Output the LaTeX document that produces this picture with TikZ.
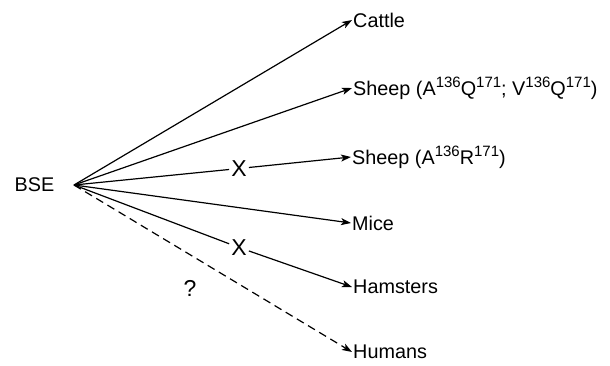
\documentclass[tikz,border=0pt]{standalone}
\usepackage{fontspec}
\setmainfont{Liberation Sans}
\usetikzlibrary{arrows.meta}
\newcommand{\supx}[1]{\raisebox{0.42em}{\fontsize{15}{16}\selectfont #1}}
\begin{document}
\begin{tikzpicture}[x=1pt,y=-1pt,
  lbl/.style={font=\fontsize{19.8}{22}\selectfont, inner sep=1pt},
  tgt/.style={lbl, anchor=west},
  conn/.style={line width=1.2pt, -{Stealth[length=10pt,width=7pt,inset=2.5pt]}},
  seg/.style={line width=1.2pt},
  cross/.style={font=\fontsize{23}{26}\selectfont, inner sep=2pt}]
\useasboundingbox (0,0) rectangle (610,365);
\fill[white] (0,0) rectangle (610,365);
\node[lbl] (bse) at (34.5,185) {BSE};
\coordinate (o) at (74,185);
\node[tgt] (cattle) at (352,20) {Cattle};
\node[tgt] (sheep1) at (352,88) {Sheep (A\supx{136}Q\supx{171}; V\supx{136}Q\supx{171})};
\node[tgt] (sheep2) at (351,157) {Sheep (A\supx{136}R\supx{171})};
\node[tgt] (mice) at (351,223) {Mice};
\node[tgt] (hamsters) at (352,287) {Hamsters};
\node[tgt] (humans) at (352,352) {Humans};
\node[cross] (x1) at (239,168.5) {X};
\node[cross] (x2) at (239,247.5) {X};
\node[cross] (q) at (190,288) {?};
\draw[conn] (o) -- (cattle.west);
\draw[conn] (o) -- (sheep1.west);
\draw[seg] (o) -- (x1);
\draw[conn] (x1) -- (sheep2.west);
\draw[conn] (o) -- (mice.west);
\draw[seg] (o) -- (x2);
\draw[conn] (x2) -- (hamsters.west);
\draw[conn, dash pattern=on 8pt off 5pt] (o) -- (humans.west);
\end{tikzpicture}
\end{document}
